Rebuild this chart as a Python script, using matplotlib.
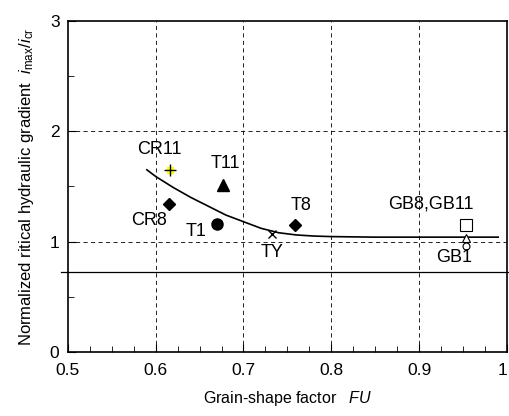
import matplotlib
matplotlib.use("Agg")
import matplotlib.pyplot as plt
from matplotlib.ticker import MultipleLocator

plt.rcParams['font.family'] = ['Liberation Sans', 'DejaVu Sans']
plt.rcParams['mathtext.fontset'] = 'custom'
plt.rcParams['mathtext.rm'] = 'Liberation Sans'
plt.rcParams['mathtext.it'] = 'Liberation Sans:italic'

# fitted curve
curve_x = [0.59, 0.60, 0.62, 0.64, 0.66, 0.68, 0.70, 0.72, 0.74, 0.76, 0.78, 0.80, 0.85, 0.90, 0.95, 0.99]
curve_y = [1.65, 1.59, 1.49, 1.40, 1.32, 1.24, 1.18, 1.12, 1.08, 1.06, 1.05, 1.045, 1.04, 1.04, 1.04, 1.04]

# samples
cr11 = (0.616, 1.65)
cr8 = (0.615, 1.34)
t11 = (0.677, 1.51)
t1 = (0.670, 1.16)
ty = (0.733, 1.065)
t8 = (0.759, 1.147)
gb11 = (0.953, 1.15)
gb8 = (0.953, 1.03)
gb1 = (0.953, 0.96)

ref_level = 0.72

labels = ["CR11", "CR8", "T11", "T1", "TY", "T8", "GB8,GB11", "GB1"]
label_pos = [(0.604, 1.83), (0.593, 1.19), (0.679, 1.71), (0.646, 1.09),
             (0.733, 0.905), (0.766, 1.33), (0.913, 1.34), (0.940, 0.86)]

fig = plt.figure(figsize=(5.1, 4.16), dpi=100)
ax = fig.add_axes([0.133, 0.154, 0.861, 0.796])

ax.set_xlim(0.5, 1.0)
ax.set_ylim(0, 3)
ax.xaxis.set_major_locator(MultipleLocator(0.1))
ax.xaxis.set_minor_locator(MultipleLocator(0.025))
ax.yaxis.set_major_locator(MultipleLocator(1))
ax.yaxis.set_minor_locator(MultipleLocator(0.5))
ax.tick_params(which='both', direction='in', labelsize=12.5)
ax.tick_params(which='major', length=6)
ax.tick_params(which='minor', length=4)
ax.set_xticks([0.5, 0.6, 0.7, 0.8, 0.9, 1.0])
ax.set_xticklabels(["0.5", "0.6", "0.7", "0.8", "0.9", "1"])
ax.get_xticklabels()[-1].set_horizontalalignment('right')
ax.tick_params(axis='x', pad=8)
ax.tick_params(axis='y', pad=6)

for gx in [0.6, 0.7, 0.8, 0.9]:
    ax.axvline(gx, color='black', linestyle=(0, (5, 4)), linewidth=0.6)
for gy in [1, 2]:
    ax.axhline(gy, color='black', linestyle=(0, (5, 4)), linewidth=0.6)

ax.axhline(ref_level, xmin=-0.015, xmax=1.01, color='black', linewidth=0.9, clip_on=False)

ax.plot(curve_x, curve_y, color='black', linewidth=1.2)

ax.plot(*cr11, marker='s', color='yellow', markersize=5, linestyle='none')
ax.plot(*cr11, marker='+', color='black', markersize=8, mew=1, linestyle='none')
ax.plot(*cr8, marker='D', color='black', markersize=6, linestyle='none')
ax.plot(*t11, marker='^', color='black', markersize=8, linestyle='none')
ax.plot(*t1, marker='o', color='black', markersize=8, linestyle='none')
ax.plot(*ty, marker='x', color='black', markersize=6, mew=1, linestyle='none')
ax.plot(*t8, marker='D', color='black', markersize=6, linestyle='none')
ax.plot(*gb11, marker='s', mfc='white', mec='black', markersize=8, mew=0.8, linestyle='none')
ax.plot(*gb8, marker='^', mfc='white', mec='black', markersize=6, mew=0.8, linestyle='none')
ax.plot(*gb1, marker='o', mfc='white', mec='black', markersize=5, mew=0.8, linestyle='none')

for txt, (lx, ly) in zip(labels, label_pos):
    ax.text(lx, ly, txt, fontsize=13, ha='center', va='center')

ax.set_xlabel(r"Grain-shape factor   $\mathit{FU}$", fontsize=11.5, labelpad=8)
ax.set_ylabel(r"Normalized ritical hydraulic gradient  $i_{\rm max}/i_{\rm cr}$", fontsize=12, labelpad=10)

for s in ax.spines.values():
    s.set_linewidth(1.2)

fig.savefig("out.png", dpi=100)
